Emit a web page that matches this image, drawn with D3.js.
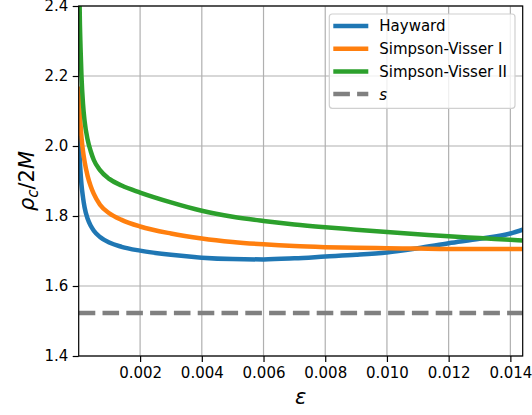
<html>
<head>
  <meta charset="utf-8">
  <style>
    body { margin: 0; background: #fff; }
    text { font-family: "DejaVu Sans", sans-serif; }
  </style>
</head>
<body>
  <script src="https://d3js.org/d3.v7.min.js"></script>
  <script>
    // epsilon samples shared by the three curves
    var eps = [0.00001, 0.00004, 0.00007, 0.0001, 0.00015, 0.0002, 0.0003, 0.0004, 0.0005, 0.0007, 0.001, 0.0014,
      0.002, 0.003, 0.004, 0.005, 0.006, 0.007, 0.008, 0.009, 0.010, 0.011, 0.012, 0.013, 0.014, 0.0144]
    var hayward = [2.03, 1.97, 1.925, 1.89, 1.853, 1.825, 1.792, 1.772, 1.758, 1.740, 1.724, 1.712,
      1.701, 1.689, 1.681, 1.677, 1.676, 1.679, 1.684, 1.689, 1.696, 1.708, 1.722, 1.735, 1.750, 1.761]
    var svI = [2.17, 2.10, 2.06, 2.025, 1.985, 1.956, 1.914, 1.885, 1.863, 1.832, 1.808, 1.789,
      1.770, 1.750, 1.736, 1.726, 1.719, 1.714, 1.711, 1.709, 1.708, 1.707, 1.706, 1.706, 1.706, 1.706]
    var svII = [2.7, 2.40, 2.28, 2.20, 2.12, 2.072, 2.018, 1.985, 1.960, 1.931, 1.906, 1.887,
      1.867, 1.839, 1.815, 1.798, 1.786, 1.776, 1.768, 1.761, 1.754, 1.748, 1.742, 1.737, 1.732, 1.730]
    var sLevel = 1.523
    var names = ["Hayward", "Simpson-Visser I", "Simpson-Visser II"]
    var colors = ["#1f77b4", "#ff7f0e", "#2ca02c"]
    var xTicks = [0.002, 0.004, 0.006, 0.008, 0.010, 0.012, 0.014]
    var yTicks = [1.4, 1.6, 1.8, 2.0, 2.2, 2.4]

    var width = 532, height = 415
    var m = { left: 78.7, right: 522.7, top: 6, bottom: 356 }

    var svg = d3.select("body").append("svg")
      .attr("width", width)
      .attr("height", height)

    var x = d3.scaleLinear().domain([0.00001, 0.0144]).range([m.left, m.right])
    var y = d3.scaleLinear().domain([1.4, 2.4]).range([m.bottom, m.top])

    svg.append("clipPath").attr("id", "clip")
      .append("rect")
      .attr("x", m.left).attr("y", m.top)
      .attr("width", m.right - m.left).attr("height", m.bottom - m.top)

    // grid
    var grid = svg.append("g")
    grid.selectAll(".gx").data(xTicks).enter().append("line")
      .attr("x1", d => x(d)).attr("x2", d => x(d))
      .attr("y1", m.top).attr("y2", m.bottom)
      .attr("stroke", "#b0b0b0").attr("stroke-width", 1.2)
    grid.selectAll(".gy").data(yTicks).enter().append("line")
      .attr("x1", m.left).attr("x2", m.right)
      .attr("y1", d => y(d)).attr("y2", d => y(d))
      .attr("stroke", "#b0b0b0").attr("stroke-width", 1.2)

    // curves
    var series = [hayward, svI, svII]
    var line = d3.line()
      .x((d, i) => x(eps[i]))
      .y(d => y(d))
      .curve(d3.curveMonotoneX)
    var plot = svg.append("g").attr("clip-path", "url(#clip)")
    plot.append("line")
      .attr("x1", m.left).attr("x2", m.right)
      .attr("y1", y(sLevel)).attr("y2", y(sLevel))
      .attr("stroke", "#808080").attr("stroke-width", 4.5)
      .attr("stroke-dasharray", "16.6,7.2")
    plot.selectAll(".curve").data(series).enter().append("path")
      .attr("fill", "none")
      .attr("stroke", (d, i) => colors[i])
      .attr("stroke-width", 4.5)
      .attr("stroke-linejoin", "round")
      .attr("d", d => line(d))

    // axes
    var xAxis = svg.append("g").attr("transform", "translate(0," + m.bottom + ")")
      .call(d3.axisBottom(x).tickValues(xTicks).tickFormat(d3.format(".3f")).tickSize(6).tickPadding(5))
    var yAxis = svg.append("g").attr("transform", "translate(" + m.left + ",0)")
      .call(d3.axisLeft(y).tickValues(yTicks).tickFormat(d3.format(".1f")).tickSize(6).tickPadding(4.4))
    ;[xAxis, yAxis].forEach(function (g) {
      g.select(".domain").remove()
      g.selectAll(".tick line").attr("stroke", "#000").attr("stroke-width", 1.2)
      g.selectAll(".tick text").attr("font-size", "15px").attr("fill", "#000")
        .attr("font-family", "DejaVu Sans")
    })

    // frame
    svg.append("rect")
      .attr("x", m.left).attr("y", m.top)
      .attr("width", m.right - m.left).attr("height", m.bottom - m.top)
      .attr("fill", "none").attr("stroke", "#000").attr("stroke-width", 1.2)

    // axis labels
    svg.append("text")
      .attr("x", (m.left + m.right) / 2).attr("y", 404)
      .attr("text-anchor", "middle")
      .attr("font-size", "21px").attr("font-style", "italic")
      .text("ε")
    var yl = svg.append("text")
      .attr("transform", "translate(34," + ((m.top + m.bottom) / 2) + ") rotate(-90)")
      .attr("text-anchor", "middle")
      .attr("font-size", "21px")
    yl.append("tspan").attr("font-style", "italic").text("ρ")
    yl.append("tspan").attr("font-style", "italic").attr("font-size", "15px").attr("dy", 4).text("c")
    yl.append("tspan").attr("dy", -4).text("/2")
    yl.append("tspan").attr("font-style", "italic").text("M")

    // legend
    var lg = svg.append("g")
    lg.append("rect")
      .attr("x", 329.3).attr("y", 14)
      .attr("width", 185.7).attr("height", 94.3)
      .attr("rx", 3)
      .attr("fill", "#fff").attr("fill-opacity", 0.8)
      .attr("stroke", "#d0d0d0").attr("stroke-width", 1.2)
    var items = names.map((n, i) => ({ name: n, color: colors[i], dash: null, italic: false }))
    items.push({ name: "s", color: "#808080", dash: "16.6,7.2", italic: true })
    var rows = lg.selectAll(".row").data(items).enter().append("g")
      .attr("transform", (d, i) => "translate(0," + (26 + i * 22.7) + ")")
    rows.append("line")
      .attr("x1", 333.3).attr("x2", 368.3)
      .attr("stroke", d => d.color).attr("stroke-width", 4.5)
      .attr("stroke-dasharray", d => d.dash)
    rows.append("text")
      .attr("x", 379.3).attr("y", 5.4)
      .attr("font-size", "15px")
      .attr("font-style", d => d.italic ? "italic" : "normal")
      .text(d => d.name)
  </script>
</body>
</html>
